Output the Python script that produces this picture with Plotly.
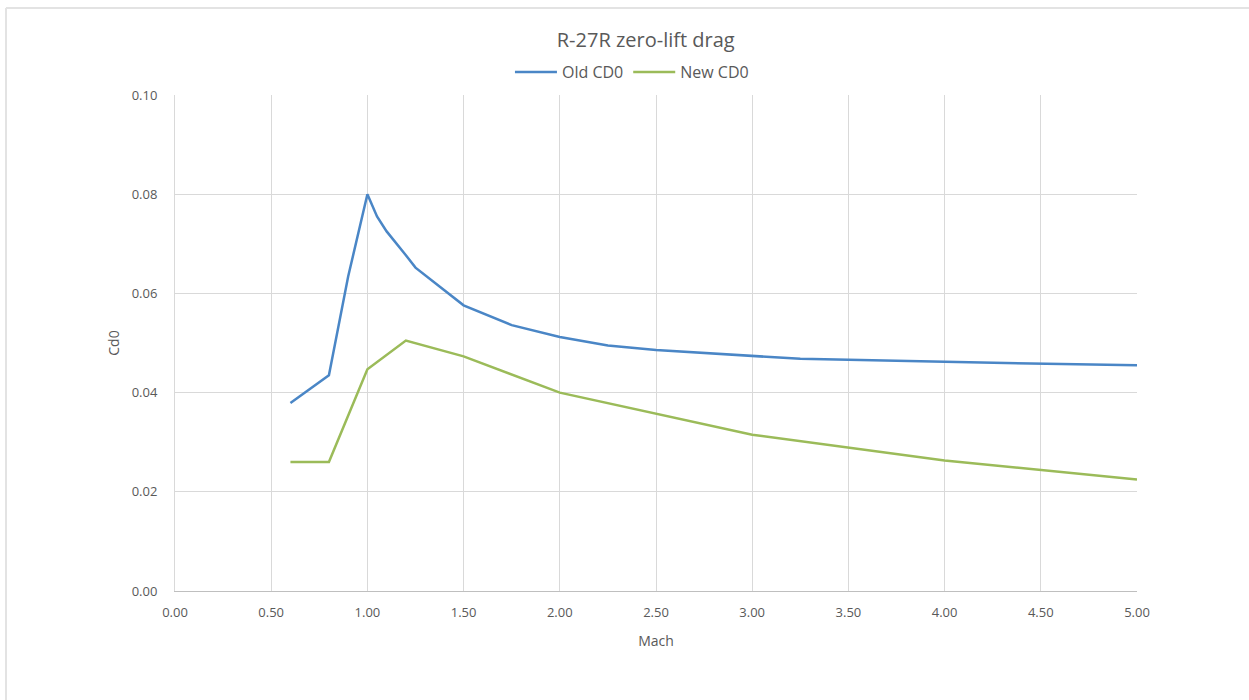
import plotly.graph_objects as go

old_mach = [0.6, 0.8, 0.9, 1.0, 1.05, 1.1, 1.2, 1.25, 1.5, 1.75, 2.0, 2.25, 2.5, 3.0, 3.25, 4.0, 5.0]
old_cd0 = [0.0379, 0.0435, 0.0634, 0.0800, 0.0755, 0.0725, 0.0677, 0.0652, 0.0576, 0.0536, 0.0512, 0.0495, 0.0486, 0.0474, 0.0468, 0.0462, 0.0455]

new_mach = [0.6, 0.8, 1.0, 1.2, 1.5, 2.0, 3.0, 4.0, 5.0]
new_cd0 = [0.0260, 0.0260, 0.0447, 0.0505, 0.0473, 0.0400, 0.0315, 0.0263, 0.0225]

x_ticks = [0, 0.5, 1, 1.5, 2, 2.5, 3, 3.5, 4, 4.5, 5]
y_ticks = [0, 0.02, 0.04, 0.06, 0.08, 0.10]

FONT = "Open Sans"
TXT = "#595959"
GRID = "#d9d9d9"

fig = go.Figure()
fig.add_trace(go.Scatter(x=old_mach, y=old_cd0, mode="lines", name="Old CD0",
                         line=dict(color="#4a86c6", width=2.5)))
fig.add_trace(go.Scatter(x=new_mach, y=new_cd0, mode="lines", name="New CD0",
                         line=dict(color="#9bbb59", width=2.5)))

fig.update_layout(
    width=1249, height=700,
    paper_bgcolor="white", plot_bgcolor="white",
    margin=dict(l=175, r=112, t=95, b=109),
    font=dict(family=FONT, color=TXT, size=12),
    title=dict(text="R-27R zero-lift drag", x=0.517, xanchor="center",
               y=1 - 40 / 700, yanchor="middle", yref="container",
               font=dict(size=20, color=TXT, family=FONT)),
    legend=dict(orientation="h", x=0.475, xanchor="center", y=1 + 23 / 496, yanchor="middle",
                font=dict(size=16, color=TXT), bgcolor="rgba(0,0,0,0)",
                itemwidth=42, tracegroupgap=0),
    showlegend=True,
)

fig.update_xaxes(range=[0, 5], tickvals=x_ticks, ticktext=[f"{v:.2f}" for v in x_ticks],
                 showgrid=True, gridcolor=GRID, gridwidth=1,
                 showline=True, linecolor="#bfbfbf", linewidth=1,
                 zeroline=False, ticks="", tickfont=dict(size=13, color=TXT),
                 ticklabelstandoff=9,
                 title=dict(text="Mach", font=dict(size=14, color=TXT), standoff=16))
fig.update_yaxes(range=[0, 0.10], tickvals=y_ticks, ticktext=[f"{v:.2f}" for v in y_ticks],
                 showgrid=True, gridcolor=GRID, gridwidth=1,
                 showline=True, linecolor="#d9d9d9", linewidth=1,
                 zeroline=False, ticks="", tickfont=dict(size=13, color=TXT),
                 ticklabelstandoff=14,
                 title=dict(text="Cd0", font=dict(size=14, color=TXT), standoff=8))

# screenshot frame (spreadsheet border)
fig.add_shape(type="line", xref="paper", yref="paper",
              x0=(6 - 175) / 962, x1=(1249 - 175) / 962, y0=(591 - 8) / 496, y1=(591 - 8) / 496,
              line=dict(color="#e3e3e3", width=2))
fig.add_shape(type="line", xref="paper", yref="paper",
              x0=(6 - 175) / 962, x1=(6 - 175) / 962, y0=(591 - 8) / 496, y1=(591 - 700) / 496,
              line=dict(color="#e3e3e3", width=2))

fig.write_html("out.html")
